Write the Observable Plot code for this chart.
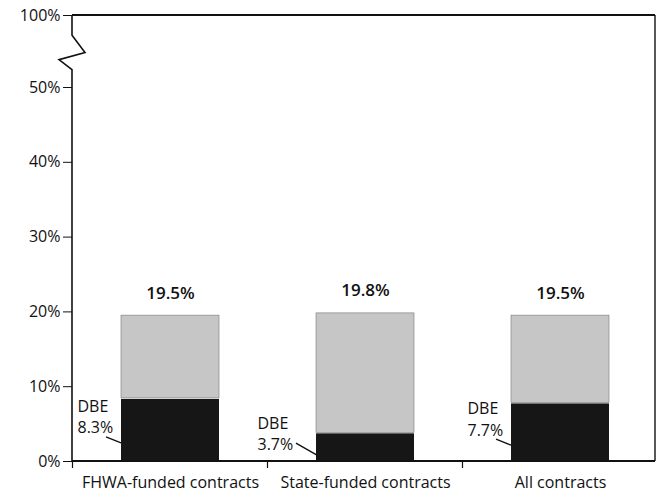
<!DOCTYPE html>
<html><head><meta charset="utf-8">
<script src="https://cdn.jsdelivr.net/npm/d3@7"></script>
<script src="https://cdn.jsdelivr.net/npm/@observablehq/plot@0.6"></script>
<style>html,body{margin:0;padding:0;background:#fff}</style>
</head><body><div id="chart"></div>
<script>
const categories = ["FHWA-funded contracts", "State-funded contracts", "All contracts"];
const dbeShare = [8.3, 3.7, 7.7];
const totalShare = [19.5, 19.8, 19.5];
const yTicks = [0, 10, 20, 30, 40, 50, 100];
const axisBreak = [62, 69, 74, 86]; // values where the y-axis zigzag break is drawn

const rows = categories.map((c, i) => ({
  category: c,
  dbe: dbeShare[i],
  total: totalShare[i],
  label: `DBE\n${dbeShare[i]}%`
}));

function axesFrame(index, scales, values, dims) {
  const {x, y} = scales;
  const L = dims.marginLeft, R = dims.width - dims.marginRight;
  const g = d3.create("svg:g").attr("fill", "none").attr("stroke", "#111").attr("stroke-width", 1.6);
  const p = d3.path();
  p.moveTo(L, y(0));
  p.lineTo(L, y(axisBreak[0]));
  p.lineTo(L - 13, y(axisBreak[1]));
  p.lineTo(L + 13, y(axisBreak[2]));
  p.lineTo(L, y(axisBreak[3]));
  p.lineTo(L, y(100));
  g.append("path").attr("d", p.toString());
  g.append("line").attr("x1", L).attr("x2", R).attr("y1", y(100)).attr("y2", y(100)).attr("stroke-width", 2);
  g.append("line").attr("x1", R).attr("x2", R).attr("y1", y(100)).attr("y2", y(0)).attr("stroke-width", 1.4);
  g.append("line").attr("x1", L).attr("x2", R).attr("y1", y(0)).attr("y2", y(0)).attr("stroke-width", 2);
  const bw = x.bandwidth(), st = x.step();
  for (const c of categories) {
    const bx = x(c) - (st - bw) / 2;
    g.append("line").attr("x1", bx).attr("x2", bx).attr("y1", y(0)).attr("y2", y(0) + 7).attr("stroke-width", 1.2);
  }
  // leader lines from DBE labels to bars
  for (const r of rows) {
    const bx = x(r.category);
    const short = r.dbe < 5;
    const yb = y(r.dbe / 2);
    if (short) {
      g.append("line").attr("x1", bx - 20).attr("y1", yb - 4).attr("x2", bx + 1).attr("y2", yb + 8).attr("stroke-width", 1.4);
    } else {
      g.append("line").attr("x1", bx - 15).attr("y1", yb + 7).attr("x2", bx).attr("y2", yb + 13).attr("stroke-width", 1.4);
    }
  }
  return g.node();
}

const chart = Plot.plot({
  width: 656,
  height: 492,
  marginLeft: 72,
  marginRight: 1,
  marginTop: 15,
  marginBottom: 31,
  style: {fontFamily: "'Open Sans', sans-serif", fontSize: "16px", color: "#111", background: "#fff", overflow: "visible"},
  x: {type: "band", domain: categories, range: [72, 657], paddingInner: 0.5, paddingOuter: 0.25, tickSize: 0, tickPadding: 15, label: null},
  y: {type: "linear", domain: [0, 50, 100], range: [461, 87, 15], ticks: yTicks, tickFormat: d => d + "%", tickSize: 9, tickPadding: 3, label: null},
  marks: [
    Plot.barY(rows, {x: "category", y1: 0, y2: "dbe", fill: "#161616"}),
    Plot.barY(rows, {x: "category", y1: "dbe", y2: "total", fill: "#c6c6c6", stroke: "#777", strokeWidth: 0.6, insetBottom: 1}),
    Plot.text(rows, {x: "category", y: "total", text: d => d.total.toFixed(1) + "%", dy: -17, lineAnchor: "bottom", fontSize: 17, fontWeight: 600, fill: "#111"}),
    Plot.text(rows.filter(d => d.dbe >= 5), {x: "category", y: d => d.dbe / 2, text: "label", textAnchor: "start", lineAnchor: "middle", lineHeight: 1.36, dy: -15, dx: -93, fontSize: 16, fill: "#111"}),
    Plot.text(rows.filter(d => d.dbe < 5), {x: "category", y: d => d.dbe / 2, text: "label", textAnchor: "start", lineAnchor: "middle", lineHeight: 1.36, dy: -15, dx: -108, fontSize: 16, fill: "#111"}),
    axesFrame
  ]
});
document.getElementById("chart").appendChild(chart);
</script>
</body></html>
